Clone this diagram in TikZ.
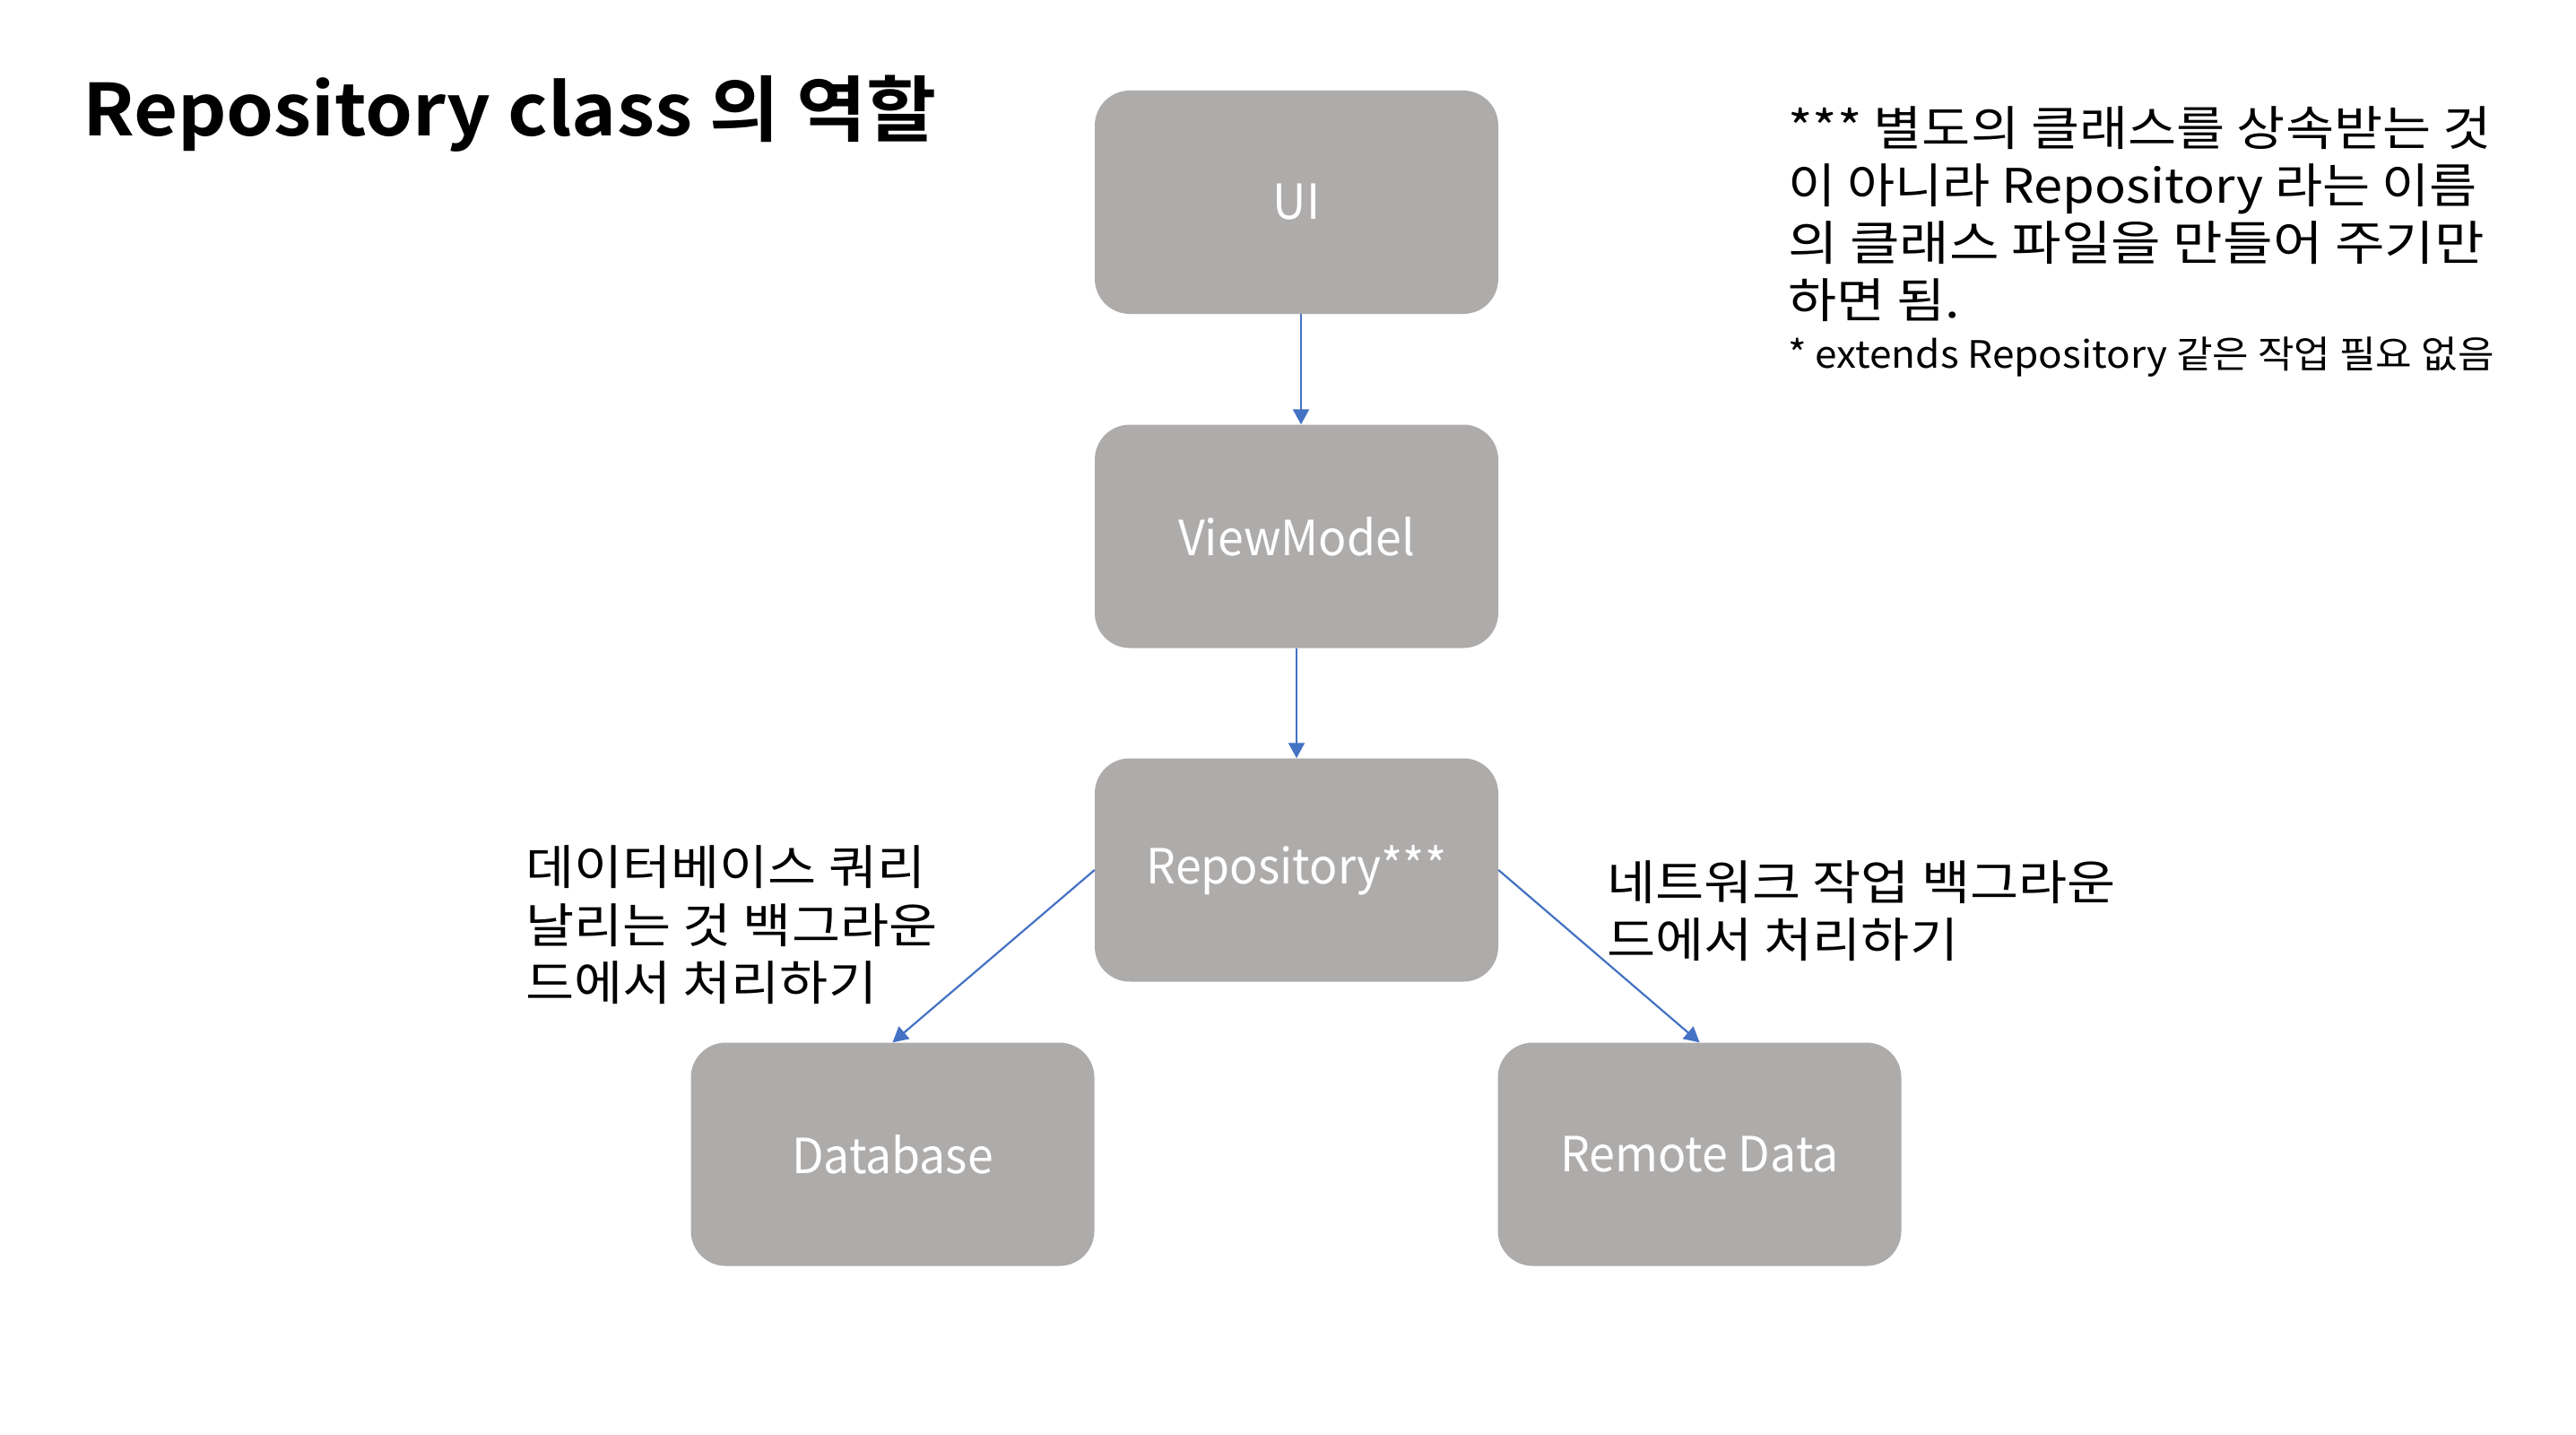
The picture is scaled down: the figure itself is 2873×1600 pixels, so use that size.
\documentclass[tikz,border=0pt]{standalone}
\usepackage{fontspec}
\setmainfont{Noto Sans CJK KR}[BoldFont={Noto Sans CJK KR Bold}]
\newfontfamily\titlefont{Noto Sans CJK KR Bold}[FakeStretch=1.06]
\newfontfamily\lblfont{Noto Sans CJK KR}[FakeStretch=1.11]
\newfontfamily\lblfontB{Noto Sans CJK KR}[FakeStretch=1.09]
\newfontfamily\lblfontC{Noto Sans CJK KR}[FakeStretch=1.14]
\newfontfamily\smallfont{Noto Sans CJK KR}[FakeStretch=1.05]
\newfontfamily\boxfont{Noto Sans CJK KR}[FakeStretch=0.96]
\usetikzlibrary{arrows.meta}
\definecolor{boxgray}{RGB}{174,171,171}
\definecolor{arrowblue}{RGB}{68,114,196}
\tikzset{
  box/.style={fill=boxgray, rounded corners=39pt, minimum width=450pt, minimum height=249pt,
    inner sep=0pt, text=white, font=\boxfont\fontsize{54}{65}\selectfont},
  conn/.style={draw=arrowblue, line width=2.2pt, -{Triangle[length=17pt,width=18pt]}},
  lbl/.style={anchor=base west, inner sep=0pt, font=\lblfont\fontsize{53}{64}\selectfont},
  smalllbl/.style={anchor=base west, inner sep=0pt, font=\smallfont\fontsize{42}{50}\selectfont},
  titlestyle/.style={anchor=base west, inner sep=0pt, font=\titlefont\fontsize{80}{96}\selectfont}
}
\begin{document}
\begin{tikzpicture}[x=1pt,y=-1pt]
\useasboundingbox[fill=white] (0,0) rectangle (2873,1600);

\node[titlestyle] (title) at (92,152) {Repository class 의 역할};

\node[box] (ui) at (1446,225.5) {UI};
\node[box] (vm) at (1446,598) {ViewModel};
\node[box] (repo) at (1446,970) {Repository***};
\node[box] (db) at (995.5,1287) {Database};
\node[box] (remote) at (1895.5,1287) {Remote Data};

\draw[conn] ([xshift=5pt]ui.south) -- ([xshift=5pt]vm.north);
\draw[conn] (vm.south) -- (repo.north);
\draw[conn] (repo.west) -- (db.north);
\draw[conn] (repo.east) -- (remote.north);

\node[lbl] (l1) at (586,986) {데이터베이스 쿼리};
\node[lbl] (l2) at (586,1051) {날리는 것 백그라운};
\node[lbl] (l3) at (586,1115) {드에서 처리하기};

\node[lbl] (r1) at (1792,1003) {네트워크 작업 백그라운};
\node[lbl] (r2) at (1792,1067) {드에서 처리하기};

\node[lbl] (n1) at (1994,162) {*** 별도의 클래스를 상속받는 것};
\node[lbl, font=\lblfontB\fontsize{53}{64}\selectfont] (n2) at (1994,226) {이 아니라 Repository 라는 이름};
\node[lbl, font=\lblfontC\fontsize{53}{64}\selectfont] (n3) at (1994,290) {의 클래스 파일을 만들어 주기만};
\node[lbl] (n4) at (1994,354) {하면 됨.};
\node[smalllbl] (n5) at (1994,410) {* extends Repository 같은 작업 필요 없음};
\end{tikzpicture}
\end{document}
